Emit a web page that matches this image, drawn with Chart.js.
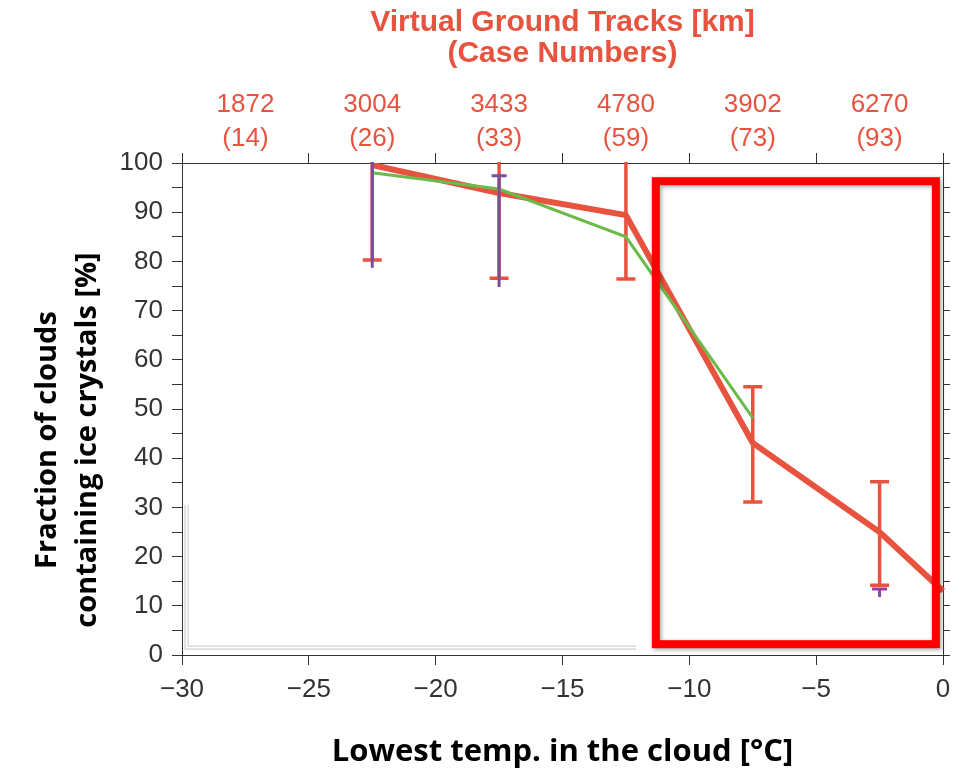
<!DOCTYPE html>
<html>
<head>
<meta charset="utf-8">
<script src="https://cdn.jsdelivr.net/npm/chart.js@4.4.1/dist/chart.umd.min.js"></script>
<style>
  html, body { margin: 0; padding: 0; background: #fff; }
  canvas { display: block; }
</style>
</head>
<body>
<canvas id="iceChart" width="967" height="772"></canvas>
<script>
// temperature bins (bin centres, deg C) and the top-axis labels for each bin
const tempBins = [-27.5, -22.5, -17.5, -12.5, -7.5, -2.5];
const trackKm = ['1872', '3004', '3433', '4780', '3902', '6270'];
const caseNumbers = ['(14)', '(26)', '(33)', '(59)', '(73)', '(93)'];

// red series (main result) + its error bars
const redX = [-22.5, -17.5, -12.5, -7.5, -2.5, 0];
const redY = [99.6, 93.9, 89.4, 43.1, 25, 13];
const redErrX = [-22.5, -17.5, -12.5, -7.5, -2.5];
const redErrHigh = [103, 104, 104, 54.5, 35.2];
const redErrLow = [80.3, 76.6, 76.4, 31.1, 14.2];

// green series
const greenX = [-22.5, -17.5, -12.5, -7.5];
const greenY = [98, 94.7, 85, 48.2];

// purple error bars (cap on the upper end only)
const purpleErrX = [-22.5, -17.5, -2.5];
const purpleErrHigh = [103, 97.4, 13.4];
const purpleErrLow = [78.7, 74.8, 11.8];

// highlight box drawn over the warm end (data units)
const boxX = [-11.32, -0.28];
const boxY = [2.2, 96.3];

// faint grey corner left on the original figure
const greyCornerX = [-29.88, -29.88, -12.1];
const greyCornerY = [30.5, 1.2, 1.2];

const yTitle = ['Fraction of clouds', 'containing ice crystals [%]'];

const RED = '#e8533f';
const PURPLE = '#7a4d9c';
const GREEN = '#6cba4a';
const AXIS = '#333333';
const minus = s => String(s).replace('-', '\u2212');

function pts(xs, ys) {
  return xs.map((x, i) => ({ x: x, y: ys[i] }));
}

function drawBars(chart, xs, highs, lows, color, width, capW, capLow, capHigh) {
  const { ctx, chartArea, scales } = chart;
  ctx.save();
  ctx.beginPath();
  ctx.rect(chartArea.left, chartArea.top - 1, chartArea.right - chartArea.left, chartArea.bottom - chartArea.top + 10);
  ctx.clip();
  ctx.strokeStyle = color;
  ctx.lineWidth = width;
  xs.forEach((x, i) => {
    const px = scales.x.getPixelForValue(x);
    const ph = scales.y.getPixelForValue(highs[i]);
    const pl = scales.y.getPixelForValue(lows[i]);
    ctx.beginPath();
    ctx.moveTo(px, ph);
    ctx.lineTo(px, pl);
    if (capHigh) { ctx.moveTo(px - capW / 2, ph); ctx.lineTo(px + capW / 2, ph); }
    if (capLow) { ctx.moveTo(px - capW / 2, pl); ctx.lineTo(px + capW / 2, pl); }
    ctx.stroke();
  });
  ctx.restore();
}

const extras = {
  id: 'extras',
  beforeDatasetsDraw(chart) {
    const { ctx, scales } = chart;
    // grey corner
    ctx.save();
    ctx.strokeStyle = '#c4c4c4';
    ctx.lineWidth = 1;
    [0, 3].forEach(off => {
      ctx.beginPath();
      greyCornerX.forEach((x, i) => {
        const px = scales.x.getPixelForValue(x) + (i === 0 || i === 1 ? off : 0);
        const py = scales.y.getPixelForValue(greyCornerY[i]) - (i > 0 ? off : 0);
        if (i === 0) ctx.moveTo(px, py); else ctx.lineTo(px, py);
      });
      ctx.stroke();
    });
    ctx.restore();
    drawBars(chart, redErrX, redErrHigh, redErrLow, RED, 3.5, 19, true, true);
  },
  afterDatasetsDraw(chart) {
    const { ctx, scales } = chart;
    drawBars(chart, purpleErrX, purpleErrHigh, purpleErrLow, PURPLE, 3, 15, false, true);
    // highlight rectangle
    const x1 = scales.x.getPixelForValue(boxX[0]);
    const x2 = scales.x.getPixelForValue(boxX[1]);
    const y1 = scales.y.getPixelForValue(boxY[1]);
    const y2 = scales.y.getPixelForValue(boxY[0]);
    ctx.save();
    ctx.shadowColor = 'rgba(0,0,0,0.35)';
    ctx.shadowBlur = 4;
    ctx.shadowOffsetX = 1.5;
    ctx.shadowOffsetY = 1.5;
    ctx.strokeStyle = '#ff0000';
    ctx.lineWidth = 8;
    ctx.lineJoin = 'miter';
    ctx.strokeRect(x1, y1, x2 - x1, y2 - y1);
    ctx.restore();
  },
  afterDraw(chart) {
    // y title sits a little below the middle of the axis in the original
    const ctx = chart.ctx;
    ctx.save();
    ctx.translate(0, 440);
    ctx.rotate(-Math.PI / 2);
    ctx.fillStyle = '#000';
    ctx.font = 'bold 29px "Open Sans"';
    ctx.textAlign = 'center';
    ctx.textBaseline = 'middle';
    ctx.fillText(yTitle[0], 0, 48);
    ctx.fillText(yTitle[1], 0, 88);
    ctx.restore();
  }
};

Chart.defaults.font.family = '"Liberation Sans", Arial, sans-serif';
Chart.defaults.color = AXIS;

const ctx = document.getElementById('iceChart');
const chart = new Chart(ctx, {
  type: 'line',
  data: {
    datasets: [
      {
        label: 'green',
        data: pts(greenX, greenY),
        borderColor: GREEN,
        borderWidth: 3,
        pointRadius: 0,
        tension: 0,
        clip: { left: 5, right: 5, top: 0, bottom: 5 }
      },
      {
        label: 'red',
        data: pts(redX, redY),
        borderColor: RED,
        borderWidth: 6,
        pointRadius: 0,
        tension: 0,
        clip: { left: 5, right: 5, top: 0, bottom: 5 }
      }
    ]
  },
  options: {
    responsive: false,
    animation: false,
    layout: { padding: 0 },
    plugins: {
      legend: { display: false },
      tooltip: { enabled: false }
    },
    scales: {
      x: {
        type: 'linear',
        position: 'bottom',
        min: -30,
        max: 0,
        afterFit: s => { s.height = 117; },
        grid: { drawOnChartArea: false, tickLength: 10, color: AXIS, tickColor: AXIS },
        border: { color: AXIS, width: 1 },
        ticks: {
          stepSize: 5,
          padding: 9,
          maxRotation: 0,
          color: AXIS,
          font: { size: 26 },
          callback: v => minus(v)
        },
        title: {
          display: true,
          text: 'Lowest temp. in the cloud [\u00B0C]',
          color: '#000',
          font: { family: '"Open Sans"', weight: 'bold', size: 31, lineHeight: 1.2 },
          padding: { top: 0, bottom: 1 }
        }
      },
      xTop: {
        type: 'linear',
        position: 'top',
        min: -30,
        max: 0,
        afterFit: s => { s.height = 163; },
        grid: {
          drawOnChartArea: false,
          tickLength: 10,
          tickColor: c => (c.tick && Math.abs(c.tick.value % 5) < 1e-6) ? AXIS : 'rgba(0,0,0,0)'
        },
        border: { color: AXIS, width: 1 },
        ticks: {
          stepSize: 2.5,
          autoSkip: false,
          maxRotation: 0,
          padding: -3,
          color: RED,
          font: { size: 26, lineHeight: 1.3 },
          callback: v => {
            const i = tempBins.findIndex(t => Math.abs(t - v) < 1e-6);
            return i < 0 ? '' : [trackKm[i], caseNumbers[i]];
          }
        },
        title: {
          display: true,
          text: ['Virtual Ground Tracks [km]', '(Case Numbers)'],
          color: RED,
          font: { weight: 'bold', size: 30, lineHeight: 1.03 },
          padding: { top: 7, bottom: 0 }
        }
      },
      y: {
        type: 'linear',
        position: 'left',
        min: 0,
        max: 100,
        afterFit: s => { s.width = 182; },
        grid: { drawOnChartArea: false, tickLength: 10, tickColor: AXIS },
        border: { color: AXIS, width: 1 },
        ticks: {
          stepSize: 5,
          autoSkip: false,
          padding: 9,
          color: AXIS,
          font: { size: 26 },
          callback: v => (v % 10 === 0 ? String(v) : '')
        },
        title: { display: false }
      },
      yRight: {
        type: 'linear',
        position: 'right',
        min: 0,
        max: 100,
        afterFit: s => { s.width = 24; },
        grid: { drawOnChartArea: false, tickLength: 7, tickColor: AXIS },
        border: { color: AXIS, width: 1 },
        ticks: { stepSize: 5, autoSkip: false, callback: () => '' }
      }
    }
  },
  plugins: [extras]
});
</script>
</body>
</html>
